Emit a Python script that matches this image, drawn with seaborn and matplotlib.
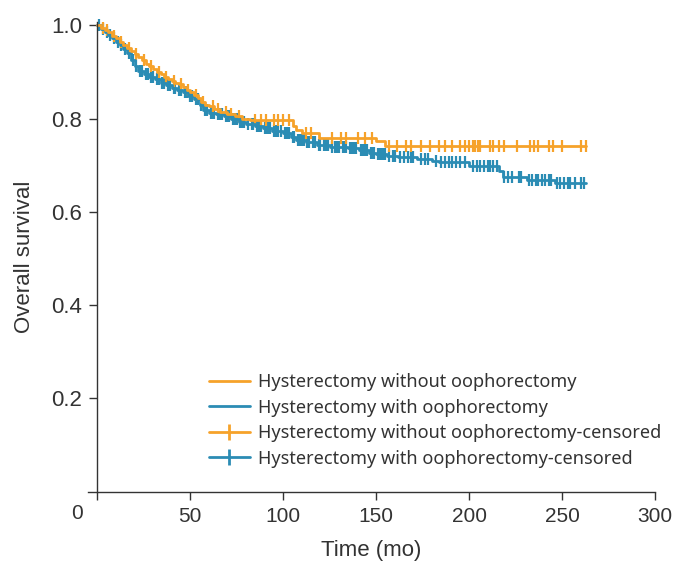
import numpy as np
import pandas as pd
import matplotlib
matplotlib.use("Agg")
import matplotlib.pyplot as plt
import matplotlib.transforms as mtransforms
from matplotlib import font_manager
from matplotlib.lines import Line2D
import seaborn as sns

# -------------------------------
# Data
# -------------------------------
# Hysterectomy without oophorectomy: step times / survival
t_without = [0, 2, 4, 6, 8, 10, 12, 14, 16, 18, 20, 22, 24, 26, 28, 30, 32, 34,
             36, 38, 40, 42, 44, 46, 48, 50, 52, 54, 56, 58, 60, 63, 66, 70, 74,
             78, 82, 105, 107, 110, 119, 150, 155, 263]
s_without = [1.0, 0.995, 0.99, 0.985, 0.978, 0.972, 0.965, 0.958, 0.952, 0.945,
             0.938, 0.932, 0.925, 0.918, 0.912, 0.906, 0.900, 0.895, 0.890, 0.885,
             0.880, 0.877, 0.873, 0.868, 0.862, 0.856, 0.850, 0.843, 0.836, 0.830,
             0.826, 0.820, 0.814, 0.809, 0.805, 0.800, 0.796, 0.785, 0.776, 0.768,
             0.759, 0.752, 0.741, 0.741]
c_without = [3, 5, 9, 13, 17, 21, 25, 29, 33, 37, 41, 45, 49, 53, 57, 62, 65, 69,
             72, 76, 85, 88, 91, 95, 97, 100, 103, 112, 115, 126, 131, 134, 140,
             144, 148, 157, 161, 166, 169, 174, 179, 184, 187, 191, 195, 198, 200,
             202, 203, 205, 206, 211, 213, 216, 219, 226, 233, 235, 237, 243, 245,
             250, 260, 263]

# Hysterectomy with oophorectomy
t_with = [0, 2, 4, 6, 8, 10, 12, 14, 16, 18, 20, 22, 25, 28, 31, 34, 37, 40, 43,
          46, 49, 52, 55, 57, 60, 64, 68, 72, 76, 80, 85, 89, 94, 100, 104, 107,
          112, 118, 125, 135, 141, 146, 150, 156, 162, 172, 180, 184, 200, 216,
          218, 231, 246, 263]
s_with = [1.0, 0.993, 0.985, 0.979, 0.972, 0.965, 0.957, 0.950, 0.940, 0.925,
          0.913, 0.903, 0.895, 0.889, 0.884, 0.877, 0.871, 0.866, 0.861, 0.856,
          0.849, 0.841, 0.830, 0.818, 0.812, 0.809, 0.806, 0.800, 0.793, 0.788,
          0.783, 0.779, 0.774, 0.768, 0.760, 0.754, 0.750, 0.744, 0.740, 0.736,
          0.732, 0.727, 0.723, 0.720, 0.717, 0.713, 0.710, 0.706, 0.699, 0.687,
          0.675, 0.668, 0.661, 0.661]
c_with = [1, 3, 5, 7, 9, 11, 13, 15, 17, 19, 21, 23, 24, 26, 27, 29, 30, 32, 33,
          35, 36, 38, 39, 41, 42, 44, 45, 47, 48, 50, 51, 53, 54, 56, 58, 59, 61,
          62, 63, 65, 66, 67, 69, 70, 71, 73, 74, 75, 77, 78, 79, 81, 83, 84, 86,
          87, 88, 90, 91, 92, 93, 95, 96, 97, 99, 101, 102, 103, 105, 106, 108,
          109, 110, 111, 113, 114, 116, 117, 119, 120, 122, 123, 124, 126, 128,
          129, 130, 132, 133, 134, 136, 137, 138, 139, 142, 143, 144, 145, 147,
          148, 149, 151, 152, 153, 154, 155, 157, 159, 160, 163, 165, 167, 169,
          170, 174, 176, 178, 182, 185, 187, 189, 191, 193, 195, 198, 202, 204,
          206, 208, 210, 211, 213, 215, 219, 221, 223, 227, 228, 232, 234, 236,
          237, 239, 241, 243, 244, 247, 249, 251, 253, 254, 257, 260, 262]

labels = ["Hysterectomy without oophorectomy", "Hysterectomy with oophorectomy"]
colors = ["#F6A22A", "#2B8CB4"]


def step_value(times, surv, x):
    # survival value of the step function at time x
    idx = np.searchsorted(times, x, side="right") - 1
    return np.asarray(surv)[idx]


curves = pd.concat([
    pd.DataFrame({"time": t_without, "surv": s_without, "group": labels[0]}),
    pd.DataFrame({"time": t_with, "surv": s_with, "group": labels[1]}),
])
censored = pd.concat([
    pd.DataFrame({"time": c_without, "surv": step_value(t_without, s_without, c_without),
                  "group": labels[0]}),
    pd.DataFrame({"time": c_with, "surv": step_value(t_with, s_with, c_with),
                  "group": labels[1]}),
])

# -------------------------------
# Plot
# -------------------------------
sns.set_style("ticks")
plt.rcParams["font.family"] = ["Liberation Sans", "DejaVu Sans"]

# narrow font for the x axis if there is one
installed = {f.name for f in font_manager.fontManager.ttflist}
narrow = "Liberation Sans Narrow" if "Liberation Sans Narrow" in installed else None
if narrow:
    xfont = dict(family=[narrow, "DejaVu Sans"], fontsize=17)
    xlab_font = dict(family=[narrow, "DejaVu Sans"], fontsize=18)
else:
    xfont = dict(family=["Liberation Sans", "DejaVu Sans"], fontsize=15)
    xlab_font = dict(family=["Liberation Sans", "DejaVu Sans"], fontsize=16)

fig = plt.figure(figsize=(6.73, 5.64), dpi=100)
ax = fig.add_axes([0.1308, 0.1282, 0.9733 - 0.1308, 0.961 - 0.1282])

palette = dict(zip(labels, colors))
# blue first so orange sits on top as in the reference
for g in [labels[1], labels[0]]:
    sns.lineplot(data=curves[curves.group == g], x="time", y="surv", color=palette[g],
                 drawstyle="steps-post", estimator=None, linewidth=2.0, ax=ax,
                 legend=False, clip_on=False)
    sns.scatterplot(data=censored[censored.group == g], x="time", y="surv",
                    color=palette[g], marker="|", s=70, linewidth=1.6, ax=ax,
                    legend=False, clip_on=False)

ax.set_xlim(-5, 300)
ax.set_ylim(0, 1.007)
sns.despine(ax=ax)
ax.spines["left"].set_position(("data", 0))
for side in ["left", "bottom"]:
    ax.spines[side].set_color("#333333")
    ax.spines[side].set_linewidth(1.0)

ax.set_yticks([0.2, 0.4, 0.6, 0.8, 1.0])
ax.set_yticklabels(["0.2", "0.4", "0.6", "0.8", "1.0"], fontsize=16, color="#333333")
ax.set_xticks([0, 50, 100, 150, 200, 250, 300])
ax.set_xticklabels(["", "50", "100", "150", "200", "250", "300"], color="#333333",
                   **xfont)
ax.tick_params(axis="both", length=6, width=1.0, color="#333333")
ax.tick_params(axis="x", pad=5)
ax.tick_params(axis="y", pad=5)

# the "0" label sits left of the axis origin in the reference
trans = mtransforms.blended_transform_factory(ax.transData, ax.transAxes)
ax.text(-11, -0.027, "0", transform=trans, ha="center", va="top", color="#333333",
        **xfont)

ax.set_xlabel("Time (mo)", color="#333333", labelpad=10, **xlab_font)
ax.set_ylabel("Overall survival", fontsize=16, color="#333333")
ax.yaxis.set_label_coords(-0.093, 0.5)

handles = [
    Line2D([], [], color=colors[0], lw=2.0),
    Line2D([], [], color=colors[1], lw=2.0),
    Line2D([], [], color=colors[0], lw=2.0, marker="|", markersize=11, mew=2.0),
    Line2D([], [], color=colors[1], lw=2.0, marker="|", markersize=11, mew=2.0),
]
leg_labels = labels + [labels[0] + "-censored", labels[1] + "-censored"]
leg = ax.legend(handles, leg_labels, loc="upper left", bbox_to_anchor=(0.2, 0.268),
                frameon=False, handlelength=2.3, handletextpad=0.45,
                labelspacing=0.42, borderaxespad=0,
                prop={"family": ["Noto Sans", "DejaVu Sans"], "size": 13})
for txt in leg.get_texts():
    txt.set_color("#333333")

fig.savefig("out.png", dpi=100)
